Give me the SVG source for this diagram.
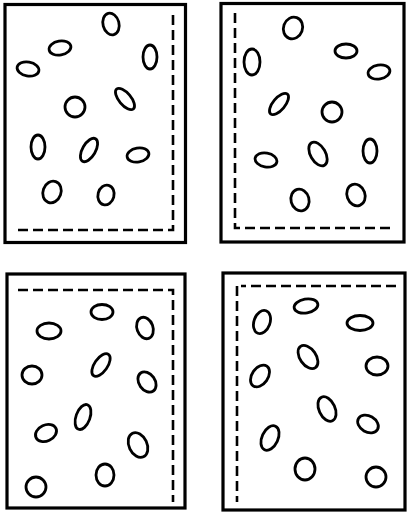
<svg xmlns="http://www.w3.org/2000/svg" width="408" height="519" viewBox="0 0 408 519">
<style>
.frame{fill:none;stroke:#000;stroke-width:3.2}
.dash{fill:none;stroke:#000;stroke-width:2.6;stroke-dasharray:10 5}
.o{fill:none;stroke:#000;stroke-width:2.8}
</style>
<rect width="408" height="519" fill="#fff"/>
<g id="panel1">
<rect class="frame" x="5" y="4.5" width="180.5" height="238"/>
<path class="dash" d="M173 15 V230 H18"/>
<ellipse class="o" cx="111" cy="24" rx="8" ry="11" transform="rotate(-15 111 24)"/>
<ellipse class="o" cx="60" cy="48" rx="11" ry="7" transform="rotate(-10 60 48)"/>
<ellipse class="o" cx="150" cy="57" rx="7" ry="12"/>
<ellipse class="o" cx="28" cy="69" rx="11" ry="7" transform="rotate(10 28 69)"/>
<ellipse class="o" cx="125" cy="99" rx="6" ry="13" transform="rotate(-40 125 99)"/>
<ellipse class="o" cx="75" cy="107" rx="10" ry="10"/>
<ellipse class="o" cx="38" cy="147" rx="7" ry="12"/>
<ellipse class="o" cx="89" cy="150" rx="6.5" ry="13" transform="rotate(30 89 150)"/>
<ellipse class="o" cx="138" cy="155" rx="11" ry="7" transform="rotate(-10 138 155)"/>
<ellipse class="o" cx="52" cy="192" rx="9" ry="11" transform="rotate(20 52 192)"/>
<ellipse class="o" cx="106" cy="195" rx="8" ry="10" transform="rotate(15 106 195)"/>
</g>
<g id="panel2">
<rect class="frame" x="221" y="3.5" width="183" height="238.5"/>
<path class="dash" d="M235 13 V228 H394"/>
<ellipse class="o" cx="293" cy="28" rx="9.5" ry="11" transform="rotate(20 293 28)"/>
<ellipse class="o" cx="252" cy="62" rx="8" ry="13"/>
<ellipse class="o" cx="346" cy="51" rx="11" ry="7"/>
<ellipse class="o" cx="379" cy="72" rx="11" ry="7" transform="rotate(-10 379 72)"/>
<ellipse class="o" cx="279" cy="104" rx="6" ry="13" transform="rotate(40 279 104)"/>
<ellipse class="o" cx="332" cy="112" rx="10" ry="10"/>
<ellipse class="o" cx="266" cy="160" rx="11" ry="7" transform="rotate(10 266 160)"/>
<ellipse class="o" cx="318" cy="154" rx="7.5" ry="13" transform="rotate(-30 318 154)"/>
<ellipse class="o" cx="370" cy="151" rx="7" ry="12"/>
<ellipse class="o" cx="300" cy="200" rx="9" ry="11" transform="rotate(-15 300 200)"/>
<ellipse class="o" cx="356" cy="195" rx="9" ry="11" transform="rotate(-20 356 195)"/>
</g>
<g id="panel3">
<rect class="frame" x="7" y="274" width="178" height="234"/>
<path class="dash" d="M18 290 H173 V502"/>
<ellipse class="o" cx="102" cy="312" rx="11" ry="7.5"/>
<ellipse class="o" cx="49" cy="331" rx="12" ry="8"/>
<ellipse class="o" cx="145" cy="328" rx="8" ry="11" transform="rotate(-20 145 328)"/>
<ellipse class="o" cx="32" cy="375" rx="10" ry="9"/>
<ellipse class="o" cx="101" cy="365" rx="6.5" ry="13" transform="rotate(35 101 365)"/>
<ellipse class="o" cx="147" cy="382" rx="8" ry="11" transform="rotate(-35 147 382)"/>
<ellipse class="o" cx="83" cy="417" rx="7" ry="13" transform="rotate(20 83 417)"/>
<ellipse class="o" cx="46" cy="433" rx="11" ry="8" transform="rotate(-25 46 433)"/>
<ellipse class="o" cx="138" cy="445" rx="9" ry="13" transform="rotate(-25 138 445)"/>
<ellipse class="o" cx="36" cy="487" rx="10" ry="10"/>
<ellipse class="o" cx="105" cy="475" rx="9" ry="11"/>
</g>
<g id="panel4">
<rect class="frame" x="223" y="273" width="182" height="237"/>
<path class="dash" d="M396 286 H241 M237 286 V502"/>
<ellipse class="o" cx="306" cy="306" rx="12" ry="7" transform="rotate(-10 306 306)"/>
<ellipse class="o" cx="262" cy="322" rx="8" ry="12" transform="rotate(20 262 322)"/>
<ellipse class="o" cx="360" cy="323" rx="13" ry="7.5"/>
<ellipse class="o" cx="308" cy="357" rx="8" ry="13" transform="rotate(-35 308 357)"/>
<ellipse class="o" cx="377" cy="366" rx="11" ry="9"/>
<ellipse class="o" cx="260" cy="376" rx="8" ry="12" transform="rotate(35 260 376)"/>
<ellipse class="o" cx="327" cy="409" rx="8" ry="13" transform="rotate(-25 327 409)"/>
<ellipse class="o" cx="368" cy="424" rx="11" ry="8" transform="rotate(30 368 424)"/>
<ellipse class="o" cx="270" cy="438" rx="8" ry="13" transform="rotate(25 270 438)"/>
<ellipse class="o" cx="305" cy="469" rx="10" ry="11"/>
<ellipse class="o" cx="376" cy="477" rx="10" ry="10"/>
</g>
</svg>
